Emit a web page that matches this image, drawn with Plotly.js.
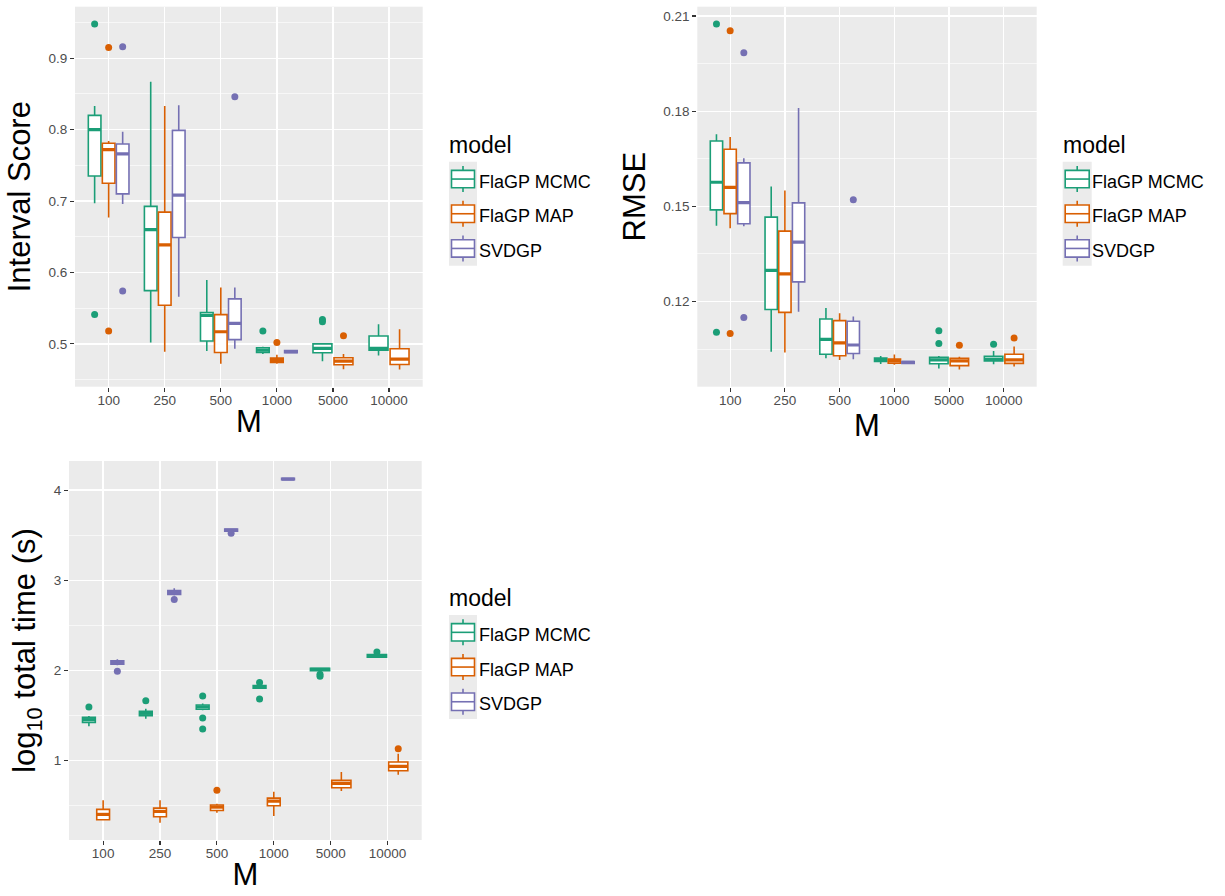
<!DOCTYPE html>
<html>
<head>
<meta charset="utf-8">
<script src="https://cdn.plot.ly/plotly-3.0.1.min.js"></script>
<style>html,body{margin:0;padding:0;background:#fff;}#chart{width:1225px;height:896px;}</style>
</head>
<body>
<div id="chart"></div>
<script>
const categories = ["100","250","500","1000","5000","10000"];
const models = ["FlaGP MCMC","FlaGP MAP","SVDGP"];
const colors = ["#1B9E77","#D95F02","#7570B3"];

// Interval Score
const isMcmcLo  = [0.697,0.502,0.490,0.4857,0.4758,0.4838];
const isMcmcQ1  = [0.735,0.5745,0.504,0.4881,0.4875,0.4913];
const isMcmcMed = [0.800,0.660,0.540,0.4913,0.4937,0.4937];
const isMcmcQ3  = [0.820,0.6925,0.544,0.4946,0.500,0.511];
const isMcmcHi  = [0.833,0.867,0.5895,0.4959,0.5005,0.5274];
const isMcmcOut = [[0.948,0.541],[],[],[0.518],[0.534,0.531],[]];
const isMapLo  = [0.677,0.489,0.472,0.472,0.4646,0.4642];
const isMapQ1  = [0.725,0.554,0.488,0.474,0.4707,0.4712];
const isMapMed = [0.772,0.6386,0.517,0.477,0.4758,0.4787];
const isMapQ3  = [0.781,0.6845,0.541,0.480,0.4805,0.4931];
const isMapHi  = [0.784,0.833,0.579,0.4847,0.4857,0.5204];
const isMapOut = [[0.915,0.518],[],[],[0.502],[0.5114],[]];
const isSvdLo  = [0.696,0.566,0.493,0.4865,null,null];
const isSvdQ1  = [0.710,0.649,0.506,0.4875,null,null];
const isSvdMed = [0.766,0.7084,0.5286,0.489,null,null];
const isSvdQ3  = [0.780,0.799,0.563,0.4905,null,null];
const isSvdHi  = [0.797,0.834,0.579,0.4915,null,null];
const isSvdOut = [[0.916,0.574],[],[0.846],[],[],[]];

// RMSE
const rmMcmcLo  = [0.1439,0.1042,0.1021,0.1003,0.0989,0.1002];
const rmMcmcQ1  = [0.1489,0.1175,0.1034,0.1011,0.1004,0.1013];
const rmMcmcMed = [0.1576,0.1298,0.1081,0.1017,0.1016,0.1018];
const rmMcmcQ3  = [0.1706,0.1466,0.1145,0.1022,0.1024,0.1027];
const rmMcmcHi  = [0.1727,0.1563,0.1180,0.1028,0.1028,0.1044];
const rmMcmcOut = [[0.2075,0.1103],[],[],[],[0.1108,0.1068],[0.1065]];
const rmMapLo  = [0.1431,0.1039,0.1016,0.1001,0.0986,0.0995];
const rmMapQ1  = [0.1477,0.1166,0.1029,0.1006,0.0998,0.1005];
const rmMapMed = [0.1560,0.1287,0.1070,0.1014,0.1013,0.1016];
const rmMapQ3  = [0.1680,0.1422,0.1140,0.1019,0.1021,0.1034];
const rmMapHi  = [0.1719,0.1550,0.1163,0.1033,0.1026,0.1058];
const rmMapOut = [[0.2054,0.1099],[],[],[],[0.1062],[0.1085]];
const rmSvdLo  = [0.1437,0.1168,0.1018,0.1004,null,null];
const rmSvdQ1  = [0.1445,0.1262,0.1036,0.1005,null,null];
const rmSvdMed = [0.1512,0.1387,0.1063,0.1008,null,null];
const rmSvdQ3  = [0.1637,0.1511,0.1138,0.1011,null,null];
const rmSvdHi  = [0.1652,0.1810,0.1153,0.1012,null,null];
const rmSvdOut = [[0.1984,0.1150],[],[0.1521],[],[],[]];

// log10 total time
const tmMcmcLo  = [1.378,1.463,1.556,1.793,1.989,2.141];
const tmMcmcQ1  = [1.422,1.496,1.567,1.800,1.996,2.144];
const tmMcmcMed = [1.452,1.522,1.593,1.815,2.011,2.159];
const tmMcmcQ3  = [1.478,1.544,1.615,1.830,2.022,2.174];
const tmMcmcHi  = [1.493,1.574,1.630,1.841,2.030,2.185];
const tmMcmcOut = [[1.593],[1.663],[1.715,1.470,1.348],[1.863,1.681],[1.956,1.933],[2.204]];
const tmMapLo  = [0.333,0.307,0.419,0.381,0.659,0.841];
const tmMapQ1  = [0.341,0.374,0.444,0.496,0.696,0.885];
const tmMapMed = [0.400,0.433,0.481,0.548,0.744,0.933];
const tmMapQ3  = [0.456,0.470,0.504,0.581,0.778,0.981];
const tmMapHi  = [0.556,0.556,0.519,0.652,0.870,1.074];
const tmMapOut = [[],[],[0.667],[],[],[1.130]];
const tmSvdLo  = [2.056,2.830,3.537,4.113,null,null];
const tmSvdQ1  = [2.067,2.841,3.544,4.115,null,null];
const tmSvdMed = [2.085,2.863,3.556,4.122,null,null];
const tmSvdQ3  = [2.104,2.885,3.567,4.130,null,null];
const tmSvdHi  = [2.122,2.911,3.574,4.132,null,null];
const tmSvdOut = [[1.989],[2.785],[3.522],[],[],[]];

const panels = [
  {ax:'', legend:'legend', data:[
    [isMcmcLo,isMcmcQ1,isMcmcMed,isMcmcQ3,isMcmcHi,isMcmcOut],
    [isMapLo,isMapQ1,isMapMed,isMapQ3,isMapHi,isMapOut],
    [isSvdLo,isSvdQ1,isSvdMed,isSvdQ3,isSvdHi,isSvdOut]]},
  {ax:'2', legend:'legend2', data:[
    [rmMcmcLo,rmMcmcQ1,rmMcmcMed,rmMcmcQ3,rmMcmcHi,rmMcmcOut],
    [rmMapLo,rmMapQ1,rmMapMed,rmMapQ3,rmMapHi,rmMapOut],
    [rmSvdLo,rmSvdQ1,rmSvdMed,rmSvdQ3,rmSvdHi,rmSvdOut]]},
  {ax:'3', legend:'legend3', data:[
    [tmMcmcLo,tmMcmcQ1,tmMcmcMed,tmMcmcQ3,tmMcmcHi,tmMcmcOut],
    [tmMapLo,tmMapQ1,tmMapMed,tmMapQ3,tmMapHi,tmMapOut],
    [tmSvdLo,tmSvdQ1,tmSvdMed,tmSvdQ3,tmSvdHi,tmSvdOut]]}
];

const traces = [];
const ranges = [];
const DODGE = 0.75;
panels.forEach(p => {
  let mn = Infinity, mx = -Infinity;
  p.data.forEach((d, m) => {
    const medX = [], medY = [], outX = [], outY = [];
    categories.forEach((c, i) => {
      if (d[2][i] === null) return;
      const present = p.data.map(dd => dd[2][i] !== null);
      const n = present.filter(Boolean).length;
      const k = present.slice(0, m).filter(Boolean).length;
      const slot = DODGE / n;
      const xc = i - DODGE / 2 + slot * (k + 0.5);
      const w = slot * 0.9;
      traces.push({
        type:'box', x:[xc], q1:[d[1][i]], median:[d[2][i]], q3:[d[3][i]],
        lowerfence:[d[0][i]], upperfence:[d[4][i]], width:w,
        boxpoints:false, whiskerwidth:0, fillcolor:'white',
        line:{color:colors[m], width:1.6}, name:models[m], showlegend:false,
        xaxis:'x'+p.ax, yaxis:'y'+p.ax, hoverinfo:'y'
      });
      medX.push(xc - w/2, xc + w/2, null);
      medY.push(d[2][i], d[2][i], null);
      d[5][i].forEach(v => { outX.push(xc); outY.push(v); });
      mn = Math.min(mn, d[0][i], ...d[5][i]);
      mx = Math.max(mx, d[4][i], ...d[5][i]);
    });
    traces.push({type:'scatter', mode:'lines', x:medX, y:medY, line:{color:colors[m], width:3.2},
      showlegend:false, hoverinfo:'skip', xaxis:'x'+p.ax, yaxis:'y'+p.ax});
    traces.push({type:'scatter', mode:'markers', x:outX, y:outY, marker:{color:colors[m], size:7},
      showlegend:false, hoverinfo:'y', xaxis:'x'+p.ax, yaxis:'y'+p.ax});
  });
  const pad = (mx - mn) * 0.05;
  ranges.push([mn - pad, mx + pad]);
});

// legend entries (text only; glyphs drawn as shapes below)
panels.forEach(p => {
  models.forEach((mname, m) => {
    traces.push({type:'scatter', mode:'lines', x:[null], y:[null], name:mname,
      line:{color:'rgba(0,0,0,0)', width:0}, legend:p.legend, legendgroup:p.legend+m,
      legendrank:m+1, showlegend:true, hoverinfo:'skip', xaxis:'x'+p.ax, yaxis:'y'+p.ax});
  });
});

const W = 1225, H = 896;
const font = 'Liberation Sans, Arial, Helvetica, sans-serif';
function xax(dom) {
  return {domain:[dom[0]/W, dom[1]/W], range:[-0.6, categories.length - 0.4],
    tickvals:categories.map((c,i)=>i), ticktext:categories,
    showgrid:true, gridcolor:'white', gridwidth:1.3, zeroline:false,
    ticks:'outside', ticklen:4, tickcolor:'#333333', tickwidth:1.1, ticklabelstandoff:-3,
    tickfont:{size:13.5, color:'#4D4D4D', family:font},
    title:{text:'M', font:{size:31, color:'black', family:font}, standoff:3},
    showline:false, fixedrange:true};
}
function yax(dom, r, dtick, fmt, title, anchor) {
  return {domain:[1 - dom[1]/H, 1 - dom[0]/H], range:r, dtick:dtick, tick0:0, tickformat:fmt,
    showgrid:true, gridcolor:'white', gridwidth:1.3, zeroline:false,
    minor:{dtick:dtick/2, tick0:0, showgrid:true, gridcolor:'white', gridwidth:0.6, ticks:''},
    ticks:'outside', ticklen:4, tickcolor:'#333333', tickwidth:1.1,
    tickfont:{size:13.5, color:'#4D4D4D', family:font},
    title:{text:title, font:{size:31, color:'black', family:font}, standoff:8},
    anchor:anchor, fixedrange:true};
}
const KEY_H = 34.7;
function leg(textX, keyTop) {
  return {x:(textX - 40)/W, y:1 - (keyTop + 1)/H, xanchor:'left', yanchor:'top', bgcolor:'rgba(0,0,0,0)',
    font:{size:18, color:'black', family:font}, traceorder:'grouped', tracegroupgap:8,
    itemclick:false, itemdoubleclick:false};
}
const shapes = [];
const annotations = [];
function legendGlyphs(keyX0, keyX1, keyTop, titleX, titleBase) {
  const px = v => v / W, py = v => 1 - v / H;
  shapes.push({type:'rect', xref:'paper', yref:'paper', x0:px(keyX0), x1:px(keyX1),
    y0:py(keyTop + KEY_H * models.length), y1:py(keyTop), fillcolor:'#EBEBEB', line:{width:0}, layer:'below'});
  const cx = (keyX0 + keyX1) / 2, hw = (keyX1 - keyX0) / 2 - 2.5;
  models.forEach((mname, m) => {
    const cy = keyTop + KEY_H * (m + 0.5);
    const col = colors[m];
    shapes.push({type:'line', xref:'paper', yref:'paper', x0:px(cx), x1:px(cx), y0:py(cy - 13), y1:py(cy + 13),
      line:{color:col, width:1.6}, layer:'below'});
    shapes.push({type:'rect', xref:'paper', yref:'paper', x0:px(cx - hw), x1:px(cx + hw), y0:py(cy + 8.7), y1:py(cy - 8.7),
      fillcolor:'white', line:{color:col, width:1.6}, layer:'below'});
    shapes.push({type:'line', xref:'paper', yref:'paper', x0:px(cx - hw), x1:px(cx + hw), y0:py(cy), y1:py(cy),
      line:{color:col, width:1.6}, layer:'below'});
  });
  annotations.push({text:'model', xref:'paper', yref:'paper', x:px(titleX), y:py(titleBase),
    xanchor:'left', yanchor:'bottom', showarrow:false, font:{size:23, color:'black', family:font}, borderpad:0});
}
legendGlyphs(449, 477, 161.7, 448, 159);
legendGlyphs(1062.7, 1091.7, 161.7, 1062, 159);
legendGlyphs(449, 477, 615, 448, 612.3);

const layout = {
  width:W, height:H, margin:{l:0, r:0, t:0, b:0},
  paper_bgcolor:'white', plot_bgcolor:'#EBEBEB', showlegend:true, boxmode:'overlay',
  font:{family:font},
  xaxis: Object.assign(xax([75, 422.7]), {anchor:'y'}),
  yaxis: yax([6.7, 386.7], ranges[0], 0.1, '.1f', 'Interval Score', 'x'),
  xaxis2: Object.assign(xax([697.3, 1036.7]), {anchor:'y2'}),
  yaxis2: yax([6.7, 386.7], ranges[1], 0.03, '.2f', 'RMSE', 'x2'),
  xaxis3: Object.assign(xax([69, 421.7]), {anchor:'y3'}),
  yaxis3: yax([461, 840], ranges[2], 1, 'd', 'log<sub>10</sub> total time (s)', 'x3'),
  legend: leg(479, 161.7), legend2: leg(1092, 161.7), legend3: leg(479, 615),
  shapes: shapes, annotations: annotations
};

Plotly.newPlot('chart', traces, layout, {displayModeBar:false, staticPlot:true});
</script>
</body>
</html>
